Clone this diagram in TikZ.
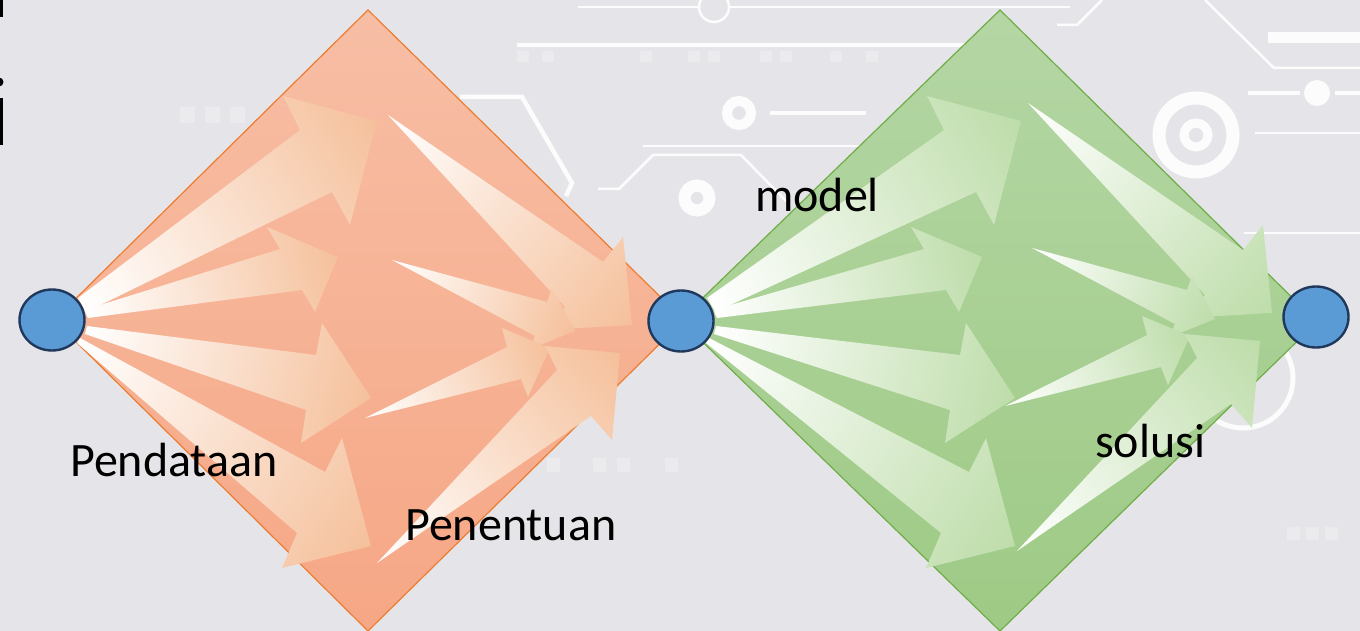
\documentclass[tikz,border=0pt]{standalone}
\usepackage{fontspec}
\setmainfont{Carlito}
\usetikzlibrary{shapes.geometric}

\definecolor{bgc}{RGB}{229,229,233}
\definecolor{orTop}{RGB}{247,190,165}
\definecolor{orBot}{RGB}{246,167,133}
\definecolor{orEdge}{RGB}{237,125,49}
\definecolor{grTop}{RGB}{180,214,164}
\definecolor{grBot}{RGB}{158,202,133}
\definecolor{grEdge}{RGB}{112,173,71}
\definecolor{headO}{RGB}{245,192,155}
\definecolor{headG}{RGB}{190,221,170}
\definecolor{dotFill}{RGB}{91,155,213}
\definecolor{dotEdge}{RGB}{31,56,91}

% a tapered block arrow, shaded from white at its tail to #1 at its head
% #2 centre of the gradient, #3 direction (deg), #4 gradient length, #5 outline
\newcommand\streak[5]{%
  \begin{scope}
    \clip #5 -- cycle;
    \begin{scope}[transform canvas={shift={#2}, rotate=#3}]
      \shade[left color=white, right color=#1] (-#4/2,-170) rectangle (#4/2,170);
    \end{scope}
  \end{scope}}

\begin{document}
\begin{tikzpicture}[x=1pt,y=-1pt,
  hub/.style={ellipse, draw=dotEdge, line width=2.4pt, fill=dotFill,
              minimum width=65pt, minimum height=61pt, inner sep=0pt},
  lbl/.style={font=\fontsize{48}{57}\selectfont, text=black, inner sep=0pt, anchor=base west},
  trace/.style={draw=white, line width=4.5pt},
  thintrace/.style={draw=white, line width=2.5pt},
  faint/.style={fill=white, opacity=0.25}]

\useasboundingbox (0,0) rectangle (1360,631);
\fill[bgc] (0,0) rectangle (1360,631);

% circuit-board backdrop
\begin{scope}[opacity=0.9]
\draw[trace] (517,45) -- (985,45);
\draw[thintrace] (578,7) -- (698,7);
\draw[thintrace] (714,7) circle (15);
\draw[thintrace] (730,7) -- (1070,7);
\draw[thintrace] (1057,25) -- (1077,25) -- (1102,0);
\draw[trace] (460,97) -- (522,97) -- (572,183) -- (566,196);
\draw[white, line width=10pt] (739,113) circle (12);
\draw[trace] (770,113) -- (866,113);
\draw[thintrace] (643,146) -- (866,146);
\draw[thintrace] (598,189) -- (619,189) -- (653,155) -- (741,155) -- (790,205);
\draw[white, line width=12pt] (697,198) circle (12.5);
\draw[white, line width=13pt] (1196,135) circle (37);
\draw[white, line width=9pt] (1196,135) circle (12);
\fill[white] (1317,93) circle (13);
\draw[trace] (1248,93) -- (1300,93);
\draw[trace] (1335,93) -- (1360,93);
\fill[white] (1268,32) rectangle (1360,43);
\draw[thintrace] (1205,0) -- (1274,68) -- (1360,68);
\draw[white, line width=2pt] (1255,133) -- (1360,133);
\draw[white, line width=2pt] (1244,233) -- (1360,233);
\draw[white, line width=5pt] (1243,378) circle (50);
\end{scope}
\foreach \x in {180,205,230} \fill[faint] (\x,107) rectangle ++(15,16);
\foreach \x in {517,542,640,688,708,760,780,830,866} \fill[faint] (\x,51) rectangle ++(12,11);
\foreach \x in {547,593,617,665} \fill[faint] (\x,458) rectangle ++(13,14);
\foreach \x in {1287,1306,1325} \fill[faint] (\x,527) rectangle ++(13,13);

% the two diamonds
\path[draw=orEdge, line width=1.2pt, top color=orTop, bottom color=orBot]
  (54,320) -- (368,10) -- (684,320) -- (368,631) -- cycle;
\path[draw=grEdge, line width=1.2pt, top color=grTop, bottom color=grBot]
  (680,320) -- (1000,10) -- (1317,322) -- (1000,631) -- cycle;

% orange: fan out of the first hub
\streak{headO}{(229.5,213)}{32}{350}{(78,298) -- (300,130) -- (283,96) -- (377,121) -- (350,225) -- (332,192) -- (86,312)}
\streak{headO}{(212,285.5)}{12.7}{260}{(84,310) -- (280,249) -- (267,227) -- (338,257) -- (315,312) -- (302,290) -- (88,318)}
\streak{headO}{(228.5,364)}{-13.4}{295}{(87,326) -- (316,355) -- (322,323) -- (371,398) -- (301,443) -- (306,410) -- (85,334)}
\streak{headO}{(224.5,443)}{-35}{360}{(80,338) -- (325,472) -- (342,438) -- (371,546) -- (282,568) -- (297,533) -- (77,343)}
% orange: converging on the middle hub
\streak{headO}{(510,220)}{-40.7}{322}{(388,115) -- (603,262) -- (623,237) -- (632,325) -- (544,330) -- (565,307)}
\streak{headO}{(483.5,295.5)}{-21}{196}{(392,260) -- (547,302) -- (552,288) -- (575,331) -- (530,349) -- (535,336)}
\streak{headO}{(457.5,383)}{20.7}{198}{(365,418) -- (507,347) -- (502,328) -- (550,348) -- (528,397) -- (521,379)}
\streak{headO}{(498.5,458)}{40.8}{321}{(377,563) -- (557,370) -- (545,346) -- (620,353) -- (612,440) -- (591,416)}

% green: fan out of the middle hub
\streak{headG}{(866,213)}{30.7}{360}{(707,298) -- (944,130) -- (927,96) -- (1021,121) -- (994,225) -- (976,192) -- (715,312)}
\streak{headG}{(848.5,285.5)}{12}{273}{(713,310) -- (924,249) -- (911,227) -- (982,257) -- (959,312) -- (946,290) -- (717,318)}
\streak{headG}{(865,364)}{-12.8}{308}{(716,326) -- (960,355) -- (966,323) -- (1015,398) -- (945,443) -- (950,410) -- (714,334)}
\streak{headG}{(861,443)}{-33.8}{370}{(709,338) -- (969,472) -- (986,438) -- (1015,546) -- (926,568) -- (941,533) -- (706,343)}
% green: converging on the last hub
\streak{headG}{(1150,208)}{-40.7}{322}{(1028,103) -- (1243,250) -- (1263,225) -- (1272,313) -- (1184,318) -- (1205,295)}
\streak{headG}{(1123.5,283.5)}{-21}{196}{(1032,248) -- (1187,290) -- (1192,276) -- (1215,319) -- (1170,337) -- (1175,324)}
\streak{headG}{(1097.5,371)}{20.7}{198}{(1005,406) -- (1147,335) -- (1142,316) -- (1190,336) -- (1168,385) -- (1161,367)}
\streak{headG}{(1138.5,446)}{40.8}{321}{(1017,551) -- (1197,358) -- (1185,334) -- (1260,341) -- (1252,428) -- (1231,404)}

% hubs
\node[hub] (start) at (52,320) {};
\node[hub] (mid) at (681,321) {};
\node[hub] (goal) at (1316,317) {};

% labels
\node[lbl] (pendataan) at (70,476) {Pendataan};
\node[lbl] (penentuan) at (405,540) {Penentuan};
\node[lbl] (model) at (755,212) {model};
\node[lbl] (solusi) at (1095,457) {solusi};

% letter fragments at the left border
\fill[black] (0,0) rectangle (3,17);
\fill[black] (-1,82) circle (4.5);
\fill[black] (0,98) rectangle (3,145);
\end{tikzpicture}
\end{document}
